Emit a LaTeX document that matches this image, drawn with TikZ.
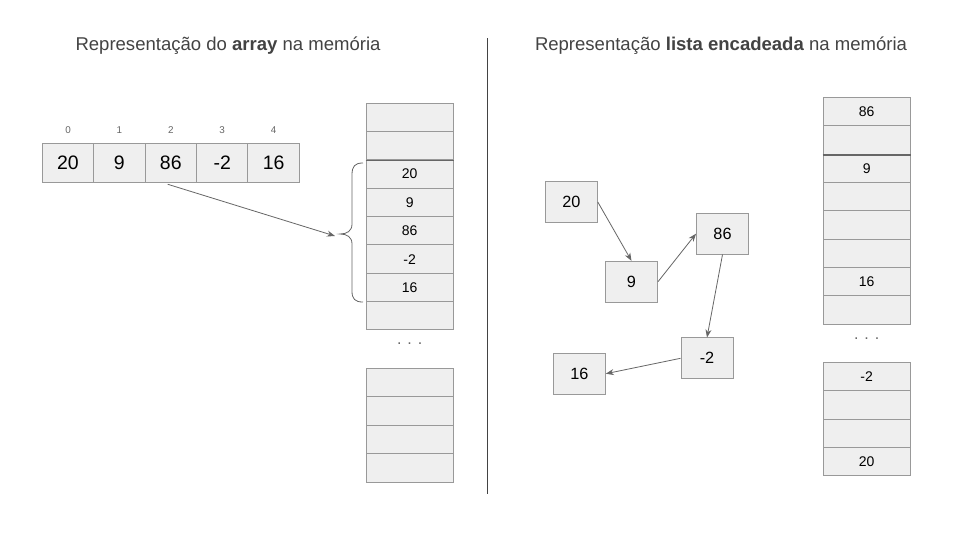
\documentclass[tikz,border=0pt]{standalone}
\usepackage{fontspec}
\setmainfont{Liberation Sans}
\usetikzlibrary{arrows.meta}
\definecolor{cellc}{HTML}{EFEFEF}
\definecolor{bordc}{HTML}{999999}
\definecolor{arrc}{HTML}{666666}
\definecolor{titc}{HTML}{434343}
\begin{document}
\begin{tikzpicture}[x=0.75pt,y=-0.75pt,
  acell/.style={draw=bordc,fill=cellc,line width=0.75pt,minimum width=38.55pt,minimum height=29.55pt,inner sep=0pt,font=\fontsize{14.6}{16}\selectfont},
  idx/.style={text=arrc,font=\fontsize{7.4}{9}\selectfont,inner sep=0pt},
  mcell/.style={draw=bordc,fill=cellc,line width=0.75pt,minimum width=65.3pt,minimum height=21.25pt,inner sep=0pt,font=\fontsize{10.5}{12}\selectfont},
  lnode/.style={draw=bordc,fill=cellc,line width=0.75pt,minimum width=39pt,minimum height=30.5pt,inner sep=0pt,font=\fontsize{12.2}{14}\selectfont},
  conn/.style={draw=arrc,line width=0.6pt,-{Stealth[length=6pt,width=4.5pt]}},
  sep/.style={draw=arrc,line width=1.2pt},
  dots/.style={text=arrc,font=\fontsize{12}{13}\selectfont,inner sep=0pt},
  title/.style={text=titc,font=\fontsize{13.9}{16}\selectfont,inner sep=0pt}
]
\useasboundingbox[fill=white] (0,0) rectangle (960,540);

% titles
\node[title] (t1) at (228,46) {Representação do \textbf{array} na memória};
\node[title] (t2) at (721,46) {Representação \textbf{lista encadeada} na memória};

% divider
\coordinate (d1) at (487,38);
\coordinate (d2) at (487,494);
\draw[draw=titc,line width=0.75pt] (d1) -- (d2);

% array
\foreach \v [count=\i from 0] in {20,9,86,-2,16} {
  \node[acell] (a\i) at ({68+51.4*\i},163) {\v};
  \node[idx] (n\i) at ({68+51.4*\i},130) {\i};
}

% left memory column
\foreach \v [count=\i from 0] in {{},{},20,9,86,-2,16,{}} {
  \node[mcell] (m\i) at (409.7,{117.5+28.33*\i}) {\v};
}
\draw[sep] (m1.south west) -- (m1.south east);
\node[dots] (ld) at (409.7,344) {. . .};
\foreach \i in {0,...,3} {
  \node[mcell] (p\i) at (409.7,{382.5+28.45*\i}) {};
}

% brace
\draw[draw=arrc,line width=0.6pt] (363,163) .. controls (355,163) and (352,166) .. (352,175) -- (352,224) .. controls (352,231) and (347,234) .. (340,234) .. controls (347,234) and (352,237) .. (352,244) -- (352,291) .. controls (352,299) and (355,302) .. (363,302);
\coordinate (bt) at (335,236);
\coordinate (as) at ([xshift=-2.3pt,yshift=-0.8pt]a2.south);
\draw[conn] (as) -- (bt);

% linked list
\node[lnode] (l20) at (571.3,202) {20};
\node[lnode] (l9) at (631.5,281.7) {9};
\node[lnode] (l86) at (722.5,233.7) {86};
\node[lnode] (lm2) at (707,358.3) {-2};
\node[lnode] (l16) at (579.3,373.7) {16};
\draw[conn] (l20.east) -- (l9.north);
\draw[conn] (l9.east) -- (l86.west);
\draw[conn] (l86.south) -- (lm2.north);
\draw[conn] (lm2.west) -- (l16.east);

% right memory column
\foreach \v [count=\i from 0] in {86,{},9,{},{},{},16,{}} {
  \node[mcell] (r\i) at (866.7,{111.8+28.33*\i}) {\v};
}
\draw[sep] (r1.south west) -- (r1.south east);
\node[dots] (rd) at (866.7,338.5) {. . .};
\foreach \v [count=\i from 0] in {-2,{},{},20} {
  \node[mcell] (q\i) at (866.7,{376.8+28.33*\i}) {\v};
}
\end{tikzpicture}
\end{document}
